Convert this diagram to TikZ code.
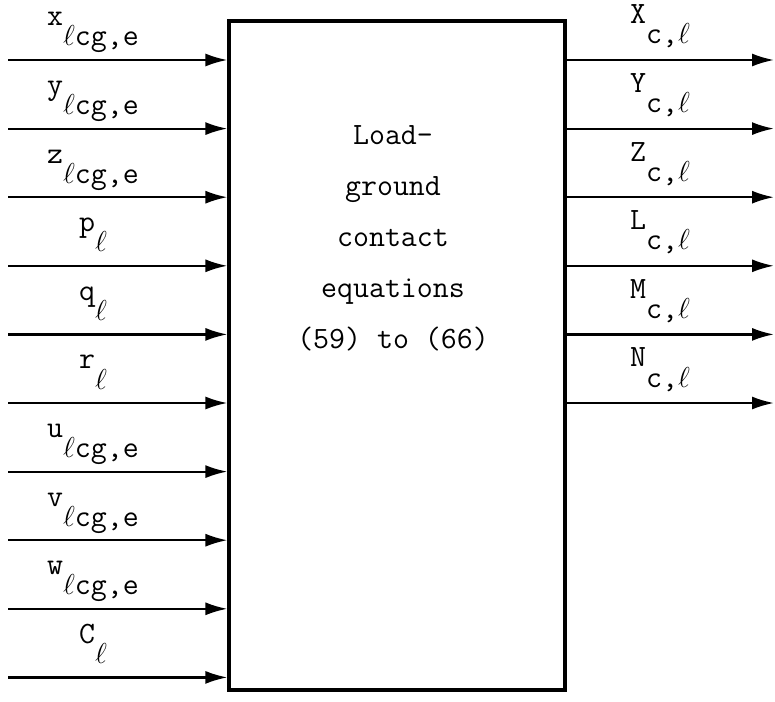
\documentclass[tikz,border=0pt]{standalone}
\usetikzlibrary{arrows.meta, positioning}
\newcommand{\sublbl}[2]{\raisebox{0.65em}{#1}#2}

\begin{document}
\begin{tikzpicture}[x=0.5pt, y=-0.5pt,
  font=\fontsize{15.5}{25.5}\selectfont\ttfamily,
  sig/.style={line width=1.1pt, -{Latex[length=11pt,width=6.5pt]}},
  lbl/.style={anchor=base, inner sep=0pt}]
\useasboundingbox (0,0) rectangle (775,701);

% Block
\node[draw, line width=1.6pt, minimum width=168pt, minimum height=334.5pt, inner sep=0pt] (blk) at (397,355.5) {};
\node[align=center] (eqs) at (393,238) {Load-\\ground\\contact\\equations\\(59) to (66)};

% Inputs
\foreach \txt [count=\i] in {{\sublbl{x}{$\ell$cg,e}}, {\sublbl{y}{$\ell$cg,e}}, {\sublbl{z}{$\ell$cg,e}},
    {\sublbl{p}{$\ell$}}, {\sublbl{q}{$\ell$}}, {\sublbl{r}{$\ell$}},
    {\sublbl{u}{$\ell$cg,e}}, {\sublbl{v}{$\ell$cg,e}}, {\sublbl{w}{$\ell$cg,e}}, {\sublbl{C}{$\ell$}}} {
  \coordinate (in\i) at (8,{60+68.6*(\i-1)});
  \draw[sig] (in\i) -- (in\i -| blk.west);
  \path (in\i) ++(85,-14) node[lbl] (lin\i) {\txt};
}

% Outputs
\foreach \txt [count=\i] in {X, Y, Z, L, M, N} {
  \coordinate (out\i) at (774,{60+68.6*(\i-1)});
  \draw[sig] (out\i -| blk.east) -- (out\i);
  \path (out\i) ++(-114,-16) node[lbl] (lout\i) {\sublbl{\txt}{c,$\ell$}};
}
\end{tikzpicture}
\end{document}
